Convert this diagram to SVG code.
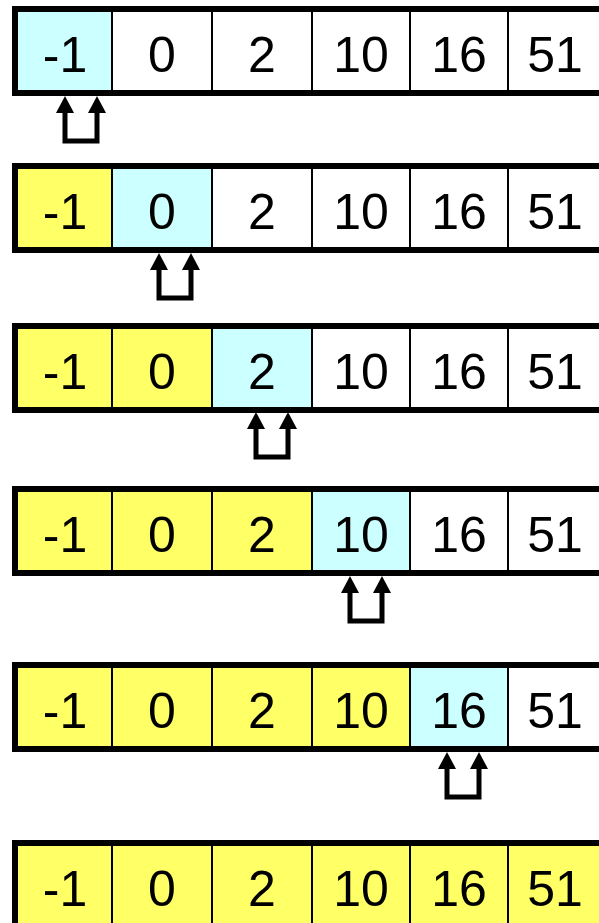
<svg xmlns="http://www.w3.org/2000/svg" xmlns:xlink="http://www.w3.org/1999/xlink" width="599" height="923" viewBox="0 0 599 923">
<style>
.w{fill:#FFFFFF}
.c{fill:#CCFFFF}
.y{fill:#FFFF66}
.div{stroke:#000;stroke-width:2}
.bd{fill:#000}
.t{font-family:"Liberation Sans",Arial,sans-serif;font-size:50px;fill:#000;text-anchor:middle}
.u{fill:none;stroke:#000;stroke-width:5;stroke-linejoin:miter}
</style>
<defs>
<polygon id="hd" points="0,0 -9,17 9,17" fill="#000"/>
<g id="frame">
<line class="div" x1="112" y1="0" x2="112" y2="90"/>
<line class="div" x1="212" y1="0" x2="212" y2="90"/>
<line class="div" x1="312" y1="0" x2="312" y2="90"/>
<line class="div" x1="410" y1="0" x2="410" y2="90"/>
<line class="div" x1="508" y1="0" x2="508" y2="90"/>
<rect class="bd" x="12" y="0" width="587" height="6"/>
<rect class="bd" x="12" y="84" width="587" height="6"/>
<rect class="bd" x="12" y="0" width="6" height="90"/>
</g>
<g id="labels">
<text class="t" x="65" y="66">-1</text>
<text class="t" x="162" y="66">0</text>
<text class="t" x="262" y="66">2</text>
<text class="t" x="361" y="66">10</text>
<text class="t" x="459" y="66">16</text>
<text class="t" x="555" y="66">51</text>
</g>
</defs>

<g id="row1" transform="translate(0,6)">
<rect class="c" x="18" y="6" width="94" height="78"/>
<rect class="w" x="112" y="6" width="487" height="78"/>
<use xlink:href="#frame"/><use xlink:href="#labels"/>
</g>
<g id="row2" transform="translate(0,163)">
<rect class="y" x="18" y="6" width="94" height="78"/>
<rect class="c" x="112" y="6" width="100" height="78"/>
<rect class="w" x="212" y="6" width="387" height="78"/>
<use xlink:href="#frame"/><use xlink:href="#labels"/>
</g>
<g id="row3" transform="translate(0,323)">
<rect class="y" x="18" y="6" width="194" height="78"/>
<rect class="c" x="212" y="6" width="100" height="78"/>
<rect class="w" x="312" y="6" width="287" height="78"/>
<use xlink:href="#frame"/><use xlink:href="#labels"/>
</g>
<g id="row4" transform="translate(0,486)">
<rect class="y" x="18" y="6" width="294" height="78"/>
<rect class="c" x="312" y="6" width="98" height="78"/>
<rect class="w" x="410" y="6" width="189" height="78"/>
<use xlink:href="#frame"/><use xlink:href="#labels"/>
</g>
<g id="row5" transform="translate(0,662)">
<rect class="y" x="18" y="6" width="392" height="78"/>
<rect class="c" x="410" y="6" width="98" height="78"/>
<rect class="w" x="508" y="6" width="91" height="78"/>
<use xlink:href="#frame"/><use xlink:href="#labels"/>
</g>
<g id="row6" transform="translate(0,840)">
<rect class="y" x="18" y="6" width="581" height="78"/>
<use xlink:href="#frame"/><use xlink:href="#labels"/>
</g>

<g id="connectors">
<g transform="translate(65,96)">
<path class="u" d="M0,15 V45 H32 V15"/><use xlink:href="#hd"/><use xlink:href="#hd" x="32"/>
</g>
<g transform="translate(159,253)">
<path class="u" d="M0,15 V45 H32 V15"/><use xlink:href="#hd"/><use xlink:href="#hd" x="32"/>
</g>
<g transform="translate(256,412)">
<path class="u" d="M0,15 V45 H32 V15"/><use xlink:href="#hd"/><use xlink:href="#hd" x="32"/>
</g>
<g transform="translate(350,576)">
<path class="u" d="M0,15 V45 H32 V15"/><use xlink:href="#hd"/><use xlink:href="#hd" x="32"/>
</g>
<g transform="translate(447,752)">
<path class="u" d="M0,15 V45 H32 V15"/><use xlink:href="#hd"/><use xlink:href="#hd" x="32"/>
</g>
</g>
</svg>
